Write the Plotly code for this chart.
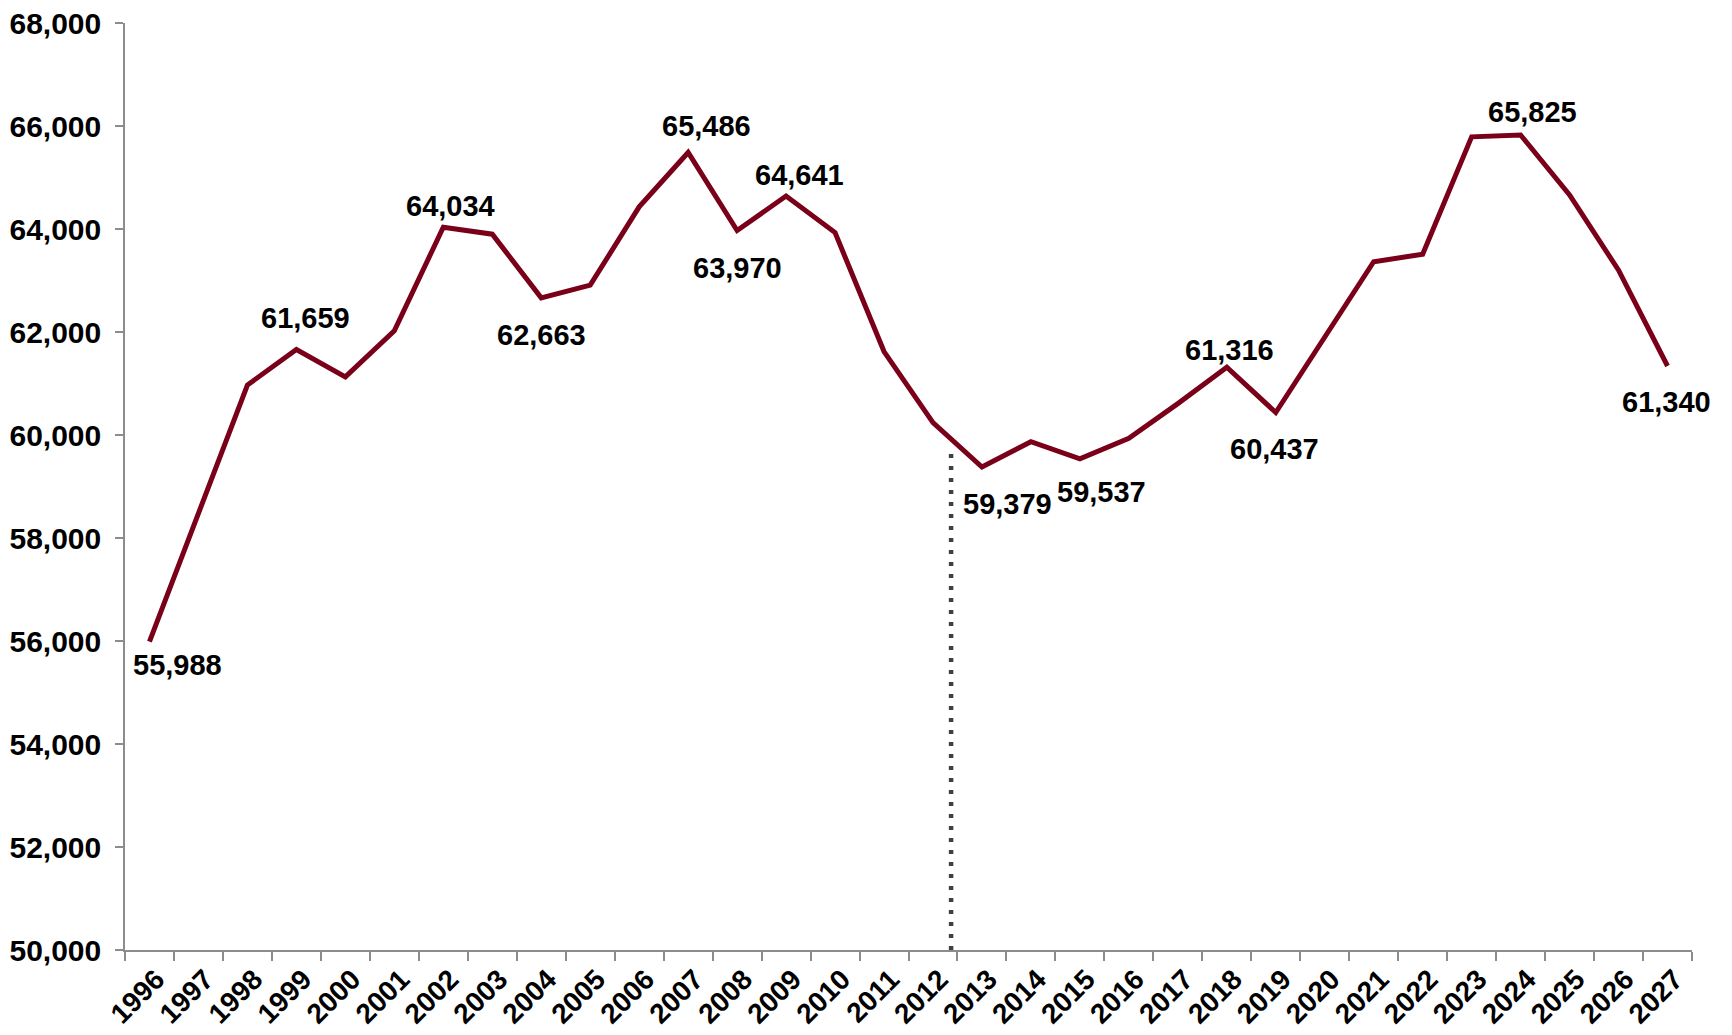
import plotly.graph_objects as go

# Annual series, 1996-2027 (values from 2013 onward are projections)
years = list(range(1996, 2028))
values = [55988, 58450, 60970, 61659, 61130, 62025, 64034, 63900, 62663, 62910,
          64430, 65486, 63970, 64641, 63930, 61620, 60240, 59379, 59870, 59537,
          59935, 60610, 61316, 60437, 61890, 63365, 63510, 65790, 65825, 64660,
          63200, 61340]
year_labels = [str(y) for y in years]

# Years whose value is written next to the line
labeled_years = [1996, 1999, 2002, 2004, 2007, 2008, 2009, 2013, 2015,
                 2018, 2019, 2024, 2027]

# Actual / forecast divider
divider_year = 2012.37
divider_top = 59700

y_min, y_max, y_step = 50000, 68000, 2000

LINE_COLOR = "#7A0019"
FONT = "Liberation Sans, Arial, sans-serif"

# Label offsets in pixels (dx, dy; dy positive = up)
label_offsets = {
    1996: (28, -23), 1999: (9, 32), 2002: (7, 21), 2004: (0, -37),
    2007: (18, 26), 2008: (0, -37), 2009: (13, 21), 2013: (26, -37),
    2015: (22, -33), 2018: (3, 17), 2019: (-1, -37), 2024: (12, 23),
    2027: (-1, -36),
}

fig = go.Figure()

fig.add_trace(go.Scatter(
    x=[divider_year, divider_year], y=[y_min, divider_top],
    mode="lines",
    line=dict(color="#404040", width=4.5, dash="4px,8px"),
    hoverinfo="skip", showlegend=False,
))

fig.add_trace(go.Scatter(
    x=years, y=values, mode="lines",
    line=dict(color=LINE_COLOR, width=5),
    showlegend=False,
))

value_of = dict(zip(years, values))
for yr in labeled_years:
    dx, dy = label_offsets[yr]
    fig.add_annotation(
        x=yr, y=value_of[yr], text=f"{value_of[yr]:,}",
        showarrow=False, xshift=dx, yshift=dy,
        xanchor="center", yanchor="middle",
        font=dict(family=FONT, size=29, color="black", weight="bold"),
    )

boundaries = [y - 0.5 for y in years] + [years[-1] + 0.5]

fig.update_layout(
    width=1732, height=1035,
    margin=dict(l=125, r=40, t=23, b=85, autoexpand=False),
    plot_bgcolor="white", paper_bgcolor="white",
    font=dict(family=FONT, color="black"),
    xaxis=dict(
        range=[years[0] - 0.5, years[-1] + 0.5],
        tickmode="array", tickvals=years, ticktext=year_labels,
        tickangle=-45, ticks="",
        tickfont=dict(family=FONT, size=28, color="black", weight="bold"),
        showgrid=False, zeroline=False,
        showline=True, linecolor="#8C8C8C", linewidth=1.5,
        ticklabelstandoff=0, ticklabelshift=7,
        minor=dict(tickmode="array", tickvals=boundaries, ticks="outside",
                   ticklen=9, tickcolor="#8C8C8C", tickwidth=1.5, showgrid=False),
    ),
    yaxis=dict(
        range=[y_min, y_max], dtick=y_step, tick0=y_min,
        tickformat=",", ticks="outside", ticklen=8,
        tickcolor="#8C8C8C", tickwidth=1.5,
        tickfont=dict(family=FONT, size=30, color="black", weight="bold"),
        showgrid=False, zeroline=False,
        showline=True, linecolor="#8C8C8C", linewidth=1.5,
        ticklabelstandoff=8,
    ),
)

fig.write_html("out.html")
